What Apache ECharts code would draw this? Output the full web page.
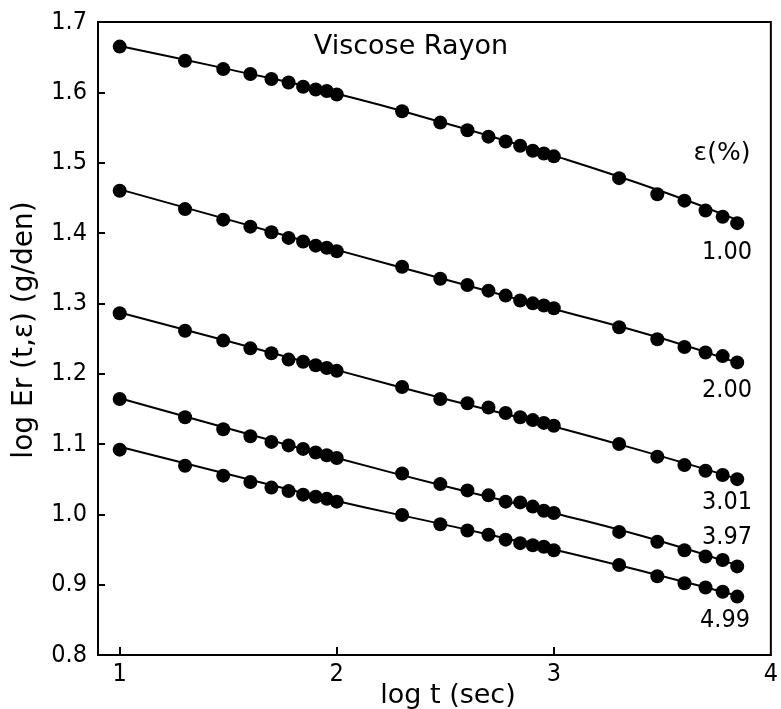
<!DOCTYPE html>
<html>
<head>
<meta charset="utf-8">
<script src="https://cdn.jsdelivr.net/npm/echarts@6/dist/echarts.min.js"></script>
<style>html,body{margin:0;padding:0;background:#fff;}#c{width:781px;height:709px;}</style>
</head>
<body>
<div id="c"></div>
<script>
// log t (sec) values of the measured points
var logT = [1, 1.301, 1.477, 1.602, 1.699, 1.778, 1.845, 1.903, 1.954, 2.0,
            2.301, 2.477, 2.602, 2.699, 2.778, 2.845, 2.903, 2.954, 3.0,
            3.301, 3.477, 3.602, 3.699, 3.778, 3.845];
var strainLabels = ['1.00', '2.00', '3.01', '3.97', '4.99'];
var e100 = [1.665, 1.645, 1.633, 1.626, 1.619, 1.614, 1.608, 1.604, 1.602, 1.597,
            1.573, 1.557, 1.546, 1.537, 1.530, 1.524, 1.517, 1.513, 1.509,
            1.478, 1.455, 1.446, 1.432, 1.423, 1.414];
var e200 = [1.460, 1.434, 1.419, 1.409, 1.401, 1.393, 1.388, 1.382, 1.379, 1.374,
            1.352, 1.335, 1.326, 1.318, 1.311, 1.304, 1.300, 1.297, 1.293,
            1.266, 1.249, 1.238, 1.230, 1.225, 1.216];
var e301 = [1.286, 1.261, 1.247, 1.236, 1.229, 1.220, 1.217, 1.212, 1.208, 1.204,
            1.181, 1.164, 1.158, 1.152, 1.144, 1.138, 1.134, 1.130, 1.126,
            1.100, 1.082, 1.070, 1.062, 1.056, 1.050];
var e397 = [1.164, 1.138, 1.121, 1.111, 1.103, 1.098, 1.093, 1.088, 1.084, 1.080,
            1.058, 1.043, 1.034, 1.027, 1.018, 1.017, 1.011, 1.005, 1.002,
            0.975, 0.961, 0.949, 0.940, 0.935, 0.926];
var e499 = [1.092, 1.069, 1.055, 1.046, 1.038, 1.033, 1.028, 1.025, 1.022, 1.018,
            0.999, 0.986, 0.977, 0.971, 0.964, 0.959, 0.956, 0.954, 0.949,
            0.928, 0.912, 0.902, 0.896, 0.890, 0.883];
// fitted curves
var fitT = [1, 1.5, 2, 2.5, 3, 3.5, 3.85];
var fit100 = [1.666, 1.633, 1.598, 1.556, 1.510, 1.459, 1.418];
var fit200 = [1.462, 1.419, 1.376, 1.334, 1.292, 1.250, 1.215];
var fit301 = [1.287, 1.246, 1.205, 1.164, 1.125, 1.082, 1.050];
var fit397 = [1.165, 1.122, 1.080, 1.040, 1.002, 0.961, 0.927];
var fit499 = [1.096, 1.057, 1.019, 0.985, 0.950, 0.912, 0.884];
var yTicks = [0.8, 0.9, 1.0, 1.1, 1.2, 1.3, 1.4, 1.5, 1.6, 1.7];
var xTicks = [1, 2, 3, 4];

var pts = [e100, e200, e301, e397, e499];
var fits = [fit100, fit200, fit301, fit397, fit499];
function pair(xs, ys) { return xs.map(function (x, i) { return [x, ys[i]]; }); }

var numFont = '"DejaVu Sans Condensed", "Liberation Sans", sans-serif';
var txtFont = '"DejaVu Sans", sans-serif';

var series = [];
fits.forEach(function (f) {
  series.push({
    type: 'line', data: pair(fitT, f), smooth: true, symbol: 'none',
    lineStyle: {color: '#000', width: 2}, silent: true, z: 2
  });
});
pts.forEach(function (p) {
  series.push({
    type: 'scatter', data: pair(logT, p), symbol: 'circle', symbolSize: 14,
    itemStyle: {color: '#000', opacity: 1}, z: 3
  });
});

function txt(x, y, s, size, fam, rot) {
  var o = {type: 'text', x: x, y: y,
    style: {text: s, fontSize: size, fontFamily: fam, fill: '#000', align: 'center', verticalAlign: 'middle'}};
  if (rot) o.rotation = rot;
  return o;
}

var chart = echarts.init(document.getElementById('c'));
chart.setOption({
  animation: false,
  backgroundColor: '#fff',
  grid: {left: 98, right: 6, top: 22, bottom: 54, show: true, borderColor: '#000', borderWidth: 2},
  xAxis: {
    type: 'value', min: 0.9, max: 4,
    axisLine: {show: true, lineStyle: {color: '#000', width: 2}},
    axisTick: {show: true, inside: true, length: 8, lineStyle: {color: '#000', width: 2}, customValues: [1, 2, 3]},
    axisLabel: {customValues: xTicks, color: '#000', fontFamily: numFont, fontSize: 25, margin: 7},
    splitLine: {show: false}
  },
  yAxis: {
    type: 'value', min: 0.8, max: 1.7, interval: 0.1,
    axisLine: {show: true, lineStyle: {color: '#000', width: 2}},
    axisTick: {show: true, inside: true, length: 7, lineStyle: {color: '#000', width: 2}},
    axisLabel: {color: '#000', fontFamily: numFont, fontSize: 25, margin: 11,
      customValues: yTicks,
      formatter: function (v) { return v.toFixed(1); }},
    splitLine: {show: false}
  },
  graphic: [
    txt(411, 47, 'Viscose Rayon', 27, txtFont),
    txt(722, 153, 'ε(%)', 25, txtFont),
    txt(727, 252, strainLabels[0], 25, numFont),
    txt(727, 390, strainLabels[1], 25, numFont),
    txt(727, 502, strainLabels[2], 25, numFont),
    txt(727, 537, strainLabels[3], 25, numFont),
    txt(725, 620, strainLabels[4], 25, numFont),
    txt(448, 696, 'log t (sec)', 27, txtFont),
    txt(25, 330, 'log Er (t,ε) (g/den)', 28, txtFont, Math.PI / 2)
  ],
  series: series
});
</script>
</body>
</html>
